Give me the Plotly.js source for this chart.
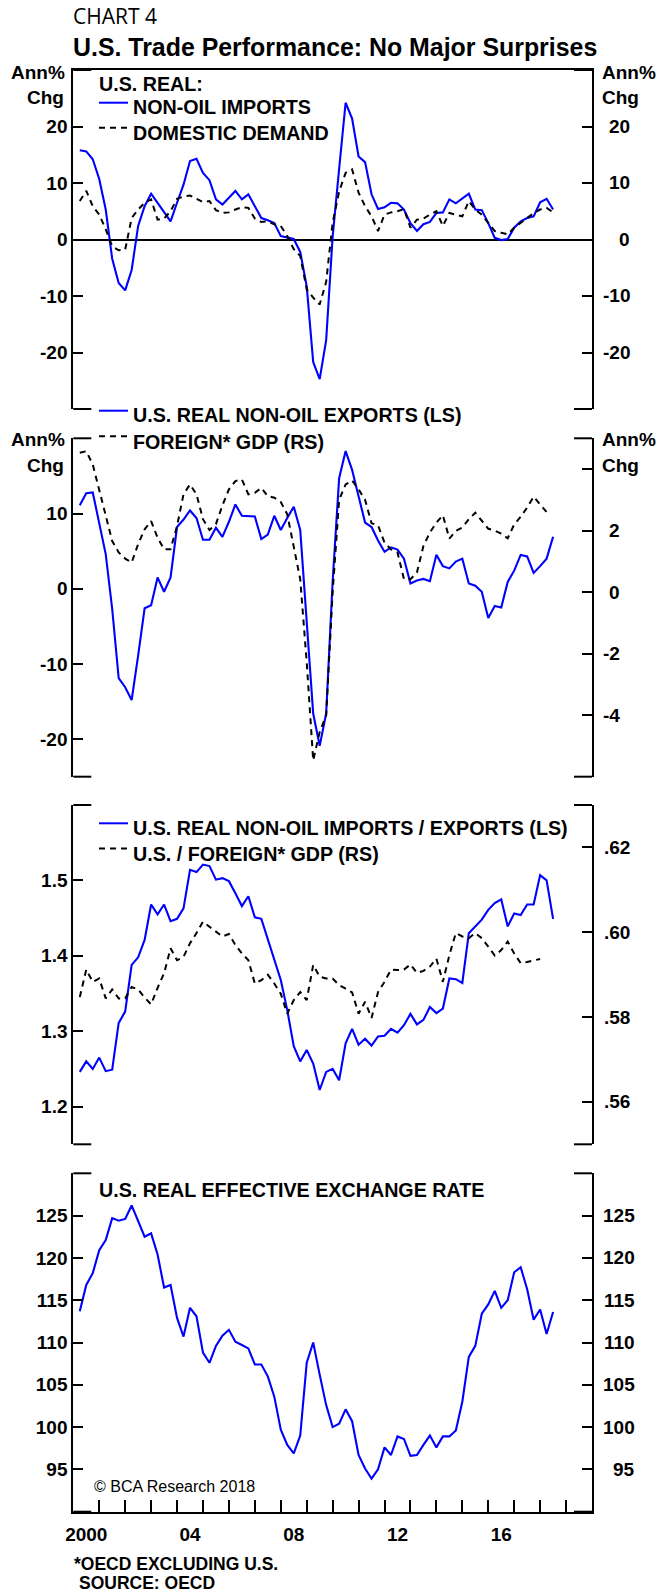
<!DOCTYPE html>
<html>
<head>
<meta charset="utf-8">
<script src="https://cdn.plot.ly/plotly-3.0.1.min.js"></script>
<style>
html,body{margin:0;padding:0;background:#fff;}
#chart{width:657px;height:1594px;}
</style>
</head>
<body>
<div id="chart"></div>
<script>
// ---------------- DATA (quarterly, first point = 2000Q1) ----------------
const FIRST_QUARTER = 2000.25;

const importsGrowth = [15.8, 15.6, 14.2, 10.7, 5.3, -3.4, -7.7, -9.0, -5.4, 2.4,
  5.9, 8.1, 6.5, 4.8, 3.2, 6.5, 9.7, 13.9, 14.3, 11.8,
  10.5, 7.1, 6.2, 7.4, 8.6, 7.1, 8.0, 5.9, 3.8, 3.4,
  2.9, 0.6, 0.4, 0.1, -2.2, -8.3, -21.7, -24.7, -17.8, 0.5,
  12.5, 24.2, 21.4, 14.7, 13.7, 8.0, 5.4, 5.7, 6.5, 6.4,
  5.3, 2.9, 1.5, 2.7, 3.1, 4.7, 4.8, 7.1, 6.4, 7.2,
  8.1, 5.3, 5.2, 2.9, 0.3, -0.1, 0.1, 2.1, 3.2, 3.8,
  4.1, 6.6, 7.2, 5.3];

const domesticDemand = [6.8, 8.6, 5.9, 4.4, 1.8, -1.2, -1.9, -1.8, 3.8, 5.3,
  6.5, 7.1, 3.5, 3.7, 5.0, 7.2, 7.6, 7.8, 7.2, 6.6,
  6.8, 5.2, 4.7, 4.8, 5.3, 5.7, 5.6, 3.7, 3.1, 3.2,
  2.7, 2.4, 0.6, -1.7, -2.9, -8.8, -10.3, -11.5, -7.5, 3.0,
  8.5, 11.8, 12.4, 8.3, 5.9, 4.1, 1.5, 4.4, 4.8, 5.0,
  5.4, 2.1, 3.5, 3.7, 4.4, 5.0, 2.4, 4.7, 4.4, 4.1,
  6.8, 5.3, 4.4, 2.9, 1.5, 1.2, 0.9, 2.1, 2.9, 3.8,
  4.7, 5.3, 5.6, 4.8];

const exportsGrowth = [11.1, 12.7, 12.8, 8.8, 4.6, -2.7, -11.9, -13.1, -14.8, -8.9,
  -2.6, -2.2, 1.5, -0.4, 1.5, 8.2, 9.2, 10.4, 9.4, 6.5,
  6.5, 8.1, 6.9, 8.9, 11.2, 9.7, 9.7, 9.6, 6.6, 7.2,
  9.7, 7.8, 9.4, 10.9, 7.8, -4.5, -16.6, -20.9, -16.6, 1.0,
  14.7, 18.3, 15.8, 12.3, 8.8, 8.2, 6.4, 4.9, 5.5, 5.2,
  4.0, 0.7, 1.1, 1.3, 1.0, 4.5, 3.0, 2.7, 3.6, 4.0,
  0.7, 0.4, -0.4, -3.9, -2.3, -2.5, 0.9, 2.4, 4.5, 4.3,
  2.1, 3.0, 4.0, 6.9];

const foreignGdp = [4.53, 4.58, 4.15, 3.34, 2.48, 1.66, 1.29, 1.09, 0.96, 1.56,
  2.04, 2.31, 1.77, 1.39, 1.39, 2.15, 3.18, 3.50, 3.18, 2.37,
  2.02, 2.21, 2.82, 3.34, 3.61, 3.66, 3.18, 3.23, 3.39, 3.12,
  3.07, 2.93, 2.53, 1.50, 0.42, -2.28, -5.47, -4.55, -4.0, 0.0,
  3.0, 3.5, 3.63, 3.34, 3.0, 2.24, 2.17, 1.61, 1.39, 1.29,
  0.42, 0.42, 0.64, 1.50, 1.94, 2.26, 2.50, 1.74, 1.99, 2.10,
  2.37, 2.58, 2.31, 2.06, 2.0, 1.9, 1.75, 2.2, 2.45, 2.75,
  3.1, 2.85, 2.6];

const importsToExports = [1.246, 1.260, 1.250, 1.265, 1.247, 1.249, 1.311, 1.326, 1.388, 1.398,
  1.421, 1.468, 1.455, 1.468, 1.446, 1.449, 1.463, 1.514, 1.511, 1.521,
  1.519, 1.501, 1.503, 1.499, 1.483, 1.466, 1.479, 1.451, 1.449, 1.421,
  1.395, 1.368, 1.328, 1.280, 1.260, 1.275, 1.257, 1.222, 1.246, 1.250,
  1.235, 1.284, 1.303, 1.282, 1.290, 1.281, 1.293, 1.294, 1.303, 1.298,
  1.308, 1.323, 1.309, 1.315, 1.332, 1.324, 1.330, 1.370, 1.369, 1.364,
  1.430, 1.439, 1.448, 1.461, 1.470, 1.475, 1.439, 1.456, 1.454, 1.468,
  1.468, 1.507, 1.500, 1.449];

const usToForeignGdp = [0.5847, 0.5912, 0.5883, 0.5891, 0.5844, 0.5865, 0.5844, 0.5844, 0.5871, 0.5865,
  0.5846, 0.5830, 0.5869, 0.5903, 0.5962, 0.5934, 0.5942, 0.5974, 0.5998, 0.6025,
  0.6013, 0.6002, 0.5990, 0.5996, 0.5970, 0.5950, 0.5934, 0.5879, 0.5887, 0.5900,
  0.5879, 0.5855, 0.5808, 0.5840, 0.5859, 0.5840, 0.5923, 0.5895, 0.5891, 0.5891,
  0.5875, 0.5867, 0.5858, 0.5808, 0.5836, 0.5798, 0.5859, 0.5883, 0.5912, 0.5911,
  0.5912, 0.5924, 0.5904, 0.5909, 0.5919, 0.5938, 0.5883, 0.5946, 0.5998, 0.5990,
  0.5986, 0.5998, 0.5986, 0.5966, 0.5945, 0.5958, 0.5978, 0.5950, 0.5927, 0.5930,
  0.5934, 0.5937];

const realExchangeRate = [113.7, 116.8, 118.2, 120.9, 122.1, 124.7, 124.4, 124.6, 126.2, 124.4,
  122.5, 122.9, 120.4, 116.5, 116.8, 112.9, 110.7, 114.1, 113.1, 108.8,
  107.6, 109.6, 110.8, 111.5, 110.1, 109.7, 109.3, 107.4, 107.4, 106.0,
  103.6, 99.7, 97.9, 96.9, 99.0, 107.6, 110.0, 106.2, 102.6, 100.0,
  100.4, 102.1, 100.7, 96.7, 95.1, 93.9, 95.0, 97.6, 96.7, 98.9,
  98.6, 96.6, 96.7, 97.9, 99.0, 97.6, 98.9, 98.9, 99.6, 103.0,
  108.3, 109.6, 113.4, 114.5, 116.1, 114.1, 115.0, 118.3, 118.9, 116.3,
  112.7, 113.9, 111.0, 113.6];

// ---------------- TICKS / LABELS ----------------
const yearTicks = [2000,2001,2002,2003,2004,2005,2006,2007,2008,2009,2010,2011,2012,2013,2014,2015,2016,2017,2018,2019,2020];
const labelYears = [2000, 2004, 2008, 2012, 2016];
const labelTexts = ['2000', '04', '08', '12', '16'];

const p1Ticks = [-20, -10, 0, 10, 20];
const p2LeftTicks = [-20, -10, 0, 10];
const p2RightTicks = [-4, -2, 0, 2, 4];
const p2RightLabels = ['-4', '-2', '0', '2', ''];
const p3LeftTicks = [1.2, 1.3, 1.4, 1.5];
const p3RightTicks = [0.56, 0.58, 0.60, 0.62];
const p3RightLabels = ['.56', '.58', '.60', '.62'];
const p4Ticks = [95, 100, 105, 110, 115, 120, 125];

// ---------------- GEOMETRY HELPERS ----------------
const W = 657, H = 1594;
const fx = p => p / W;
const fy = p => 1 - p / H;
const PL = 73.3, PR = 592;
const PANELS = [[70, 409], [438.3, 776.7], [805, 1144.3], [1173.3, 1511.7]];
const dom = i => [fy(PANELS[i][1]), fy(PANELS[i][0])];

const FAM = '"Liberation Sans", Arial, Helvetica, sans-serif';
const BOLD = {family: FAM, size: 19, color: '#000', weight: 700};
const LEG = {family: FAM, size: 19.7, color: '#000', weight: 700};
const BLUE = '#0000ff';
const DASH = '6px,5px';

function quarterAxis(n) {
  const xs = [];
  for (let i = 0; i < n; i++) xs.push(FIRST_QUARTER + 0.25 * i);
  return xs;
}

function line(y, xa, ya, color, dash, width) {
  return {type: 'scatter', mode: 'lines', x: quarterAxis(y.length), y: y,
    xaxis: xa, yaxis: ya, hoverinfo: 'skip',
    line: {color: color, width: width, dash: dash}};
}

const traces = [
  line(importsGrowth, 'x', 'y', BLUE, 'solid', 2.1),
  line(domesticDemand, 'x', 'y', '#000', DASH, 2),
  line(foreignGdp, 'x2', 'y3', '#000', DASH, 2),
  line(exportsGrowth, 'x2', 'y2', BLUE, 'solid', 2.1),
  line(usToForeignGdp, 'x3', 'y5', '#000', DASH, 2),
  line(importsToExports, 'x3', 'y4', BLUE, 'solid', 2.1),
  line(realExchangeRate, 'x4', 'y6', BLUE, 'solid', 2.1)
];

const yBase = {showgrid: false, zeroline: false, showline: true, linecolor: '#000', linewidth: 2,
  ticks: 'inside', ticklen: 10, tickwidth: 2, tickcolor: '#000', tickfont: BOLD, fixedrange: true};
const xHidden = {domain: [fx(PL), fx(PR)], range: [2000, 2020], visible: false, fixedrange: true};

const layout = {
  width: W, height: H,
  margin: {l: 0, r: 0, t: 0, b: 0},
  paper_bgcolor: '#fff', plot_bgcolor: 'rgba(0,0,0,0)',
  showlegend: false,
  xaxis: {domain: [fx(PL), fx(PR)], range: [2000, 2020], anchor: 'y', side: 'top',
    showline: true, linecolor: '#000', linewidth: 2, ticks: '', showticklabels: false,
    showgrid: false, zeroline: false, fixedrange: true},
  xaxis2: Object.assign({anchor: 'y2'}, xHidden),
  xaxis3: Object.assign({anchor: 'y4'}, xHidden),
  xaxis4: {domain: [fx(PL), fx(PR)], range: [2000, 2020], anchor: 'y6',
    showline: true, linecolor: '#000', linewidth: 2, showgrid: false, zeroline: false,
    ticks: 'inside', ticklen: 12, tickwidth: 2, tickcolor: '#000',
    tickvals: yearTicks,
    ticktext: yearTicks.map(y => { const k = labelYears.indexOf(y); return k >= 0 ? labelTexts[k] : ''; }),
    ticklabelshift: 13, ticklabelstandoff: 4,
    tickfont: BOLD, fixedrange: true},
  yaxis: Object.assign({}, yBase, {domain: dom(0), anchor: 'x', range: [-30, 30],
    tickvals: p1Ticks, ticktext: p1Ticks.map(String), mirror: 'ticks',
    zeroline: true, zerolinecolor: '#000', zerolinewidth: 2}),
  yaxis2: Object.assign({}, yBase, {domain: dom(1), anchor: 'x2', range: [-25, 20],
    tickvals: p2LeftTicks, ticktext: p2LeftTicks.map(String)}),
  yaxis3: Object.assign({}, yBase, {overlaying: 'y2', anchor: 'x2', side: 'right', range: [-6, 5],
    tickvals: p2RightTicks, showticklabels: false}),
  yaxis4: Object.assign({}, yBase, {domain: dom(2), anchor: 'x3', range: [1.15, 1.6],
    tickvals: p3LeftTicks, ticktext: p3LeftTicks.map(v => v.toFixed(1))}),
  yaxis5: Object.assign({}, yBase, {overlaying: 'y4', anchor: 'x3', side: 'right', range: [0.55, 0.63],
    tickvals: p3RightTicks, showticklabels: false}),
  yaxis6: Object.assign({}, yBase, {domain: dom(3), anchor: 'x4', range: [90, 130],
    tickvals: p4Ticks, ticktext: p4Ticks.map(String), mirror: 'ticks'}),
  shapes: [],
  annotations: []
};

// axis end caps
PANELS.forEach(([t, b]) => {
  [t, b].forEach(yy => {
    layout.shapes.push({type: 'line', xref: 'paper', yref: 'paper', x0: fx(PL), x1: fx(PL + 18), y0: fy(yy), y1: fy(yy), line: {color: '#000', width: 2}});
    layout.shapes.push({type: 'line', xref: 'paper', yref: 'paper', x0: fx(PR - 18), x1: fx(PR), y0: fy(yy), y1: fy(yy), line: {color: '#000', width: 2}});
  });
});

function txt(text, x, y, anchor, font) {
  layout.annotations.push({text: text, xref: 'paper', yref: 'paper', x: fx(x), y: fy(y),
    xanchor: anchor, yanchor: 'middle', showarrow: false, font: font || BOLD,
    borderpad: 0, borderwidth: 0});
}
function rightLabels(vals, texts, yref, xRight) {
  vals.forEach((v, k) => {
    if (!texts[k]) return;
    layout.annotations.push({text: texts[k], xref: 'paper', yref: yref, x: fx(xRight), y: v,
      xanchor: 'right', yanchor: 'middle', showarrow: false, font: BOLD, borderpad: 0, borderwidth: 0});
  });
}
function legendLine(y, color, dash) {
  layout.shapes.push({type: 'line', xref: 'paper', yref: 'paper', x0: fx(99), x1: fx(128), y0: fy(y), y1: fy(y),
    line: {color: color, width: 2, dash: dash}});
}

// right-hand tick labels (right aligned like the original)
rightLabels(p1Ticks, p1Ticks.map(String), 'y', 630);
rightLabels(p2RightTicks, p2RightLabels, 'y3', 619.5);
rightLabels(p3RightTicks, p3RightLabels, 'y5', 629.5);
rightLabels(p4Ticks, p4Ticks.map(String), 'y6', 634.5);

// titles
txt('CHART 4', 73.3, 16, 'left', {family: '"Open Sans", sans-serif', size: 21, color: '#000'});
txt('U.S. Trade Performance: No Major Surprises', 73.3, 46.5, 'left', {family: FAM, size: 24.9, color: '#000', weight: 700});

// unit labels
[[72.5, 97.7], [439.3, 465]].forEach(([a, c]) => {
  txt('Ann%', 65, a, 'right'); txt('Chg', 64, c, 'right');
  txt('Ann%', 601.7, a, 'left'); txt('Chg', 601.7, c, 'left');
});

// legends
txt('U.S. REAL:', 99.3, 83.5, 'left', LEG);
legendLine(102.7, BLUE, 'solid'); txt('NON-OIL IMPORTS', 133.3, 107, 'left', LEG);
legendLine(127.7, '#000', DASH); txt('DOMESTIC DEMAND', 133.3, 132.5, 'left', LEG);
legendLine(410.7, BLUE, 'solid'); txt('U.S. REAL NON-OIL EXPORTS (LS)', 133.3, 415, 'left', LEG);
legendLine(436.3, '#000', DASH); txt('FOREIGN* GDP (RS)', 133.3, 441.7, 'left', LEG);
legendLine(823.3, BLUE, 'solid'); txt('U.S. REAL NON-OIL IMPORTS / EXPORTS (LS)', 133.3, 828.3, 'left', LEG);
legendLine(848.5, '#000', DASH); txt('U.S. / FOREIGN* GDP (RS)', 133.3, 854, 'left', LEG);
txt('U.S. REAL EFFECTIVE EXCHANGE RATE', 99.3, 1190, 'left', LEG);

// notes
txt('© BCA Research 2018', 94, 1486.7, 'left', {family: FAM, size: 16, color: '#000'});
txt('*OECD EXCLUDING U.S.', 74, 1564, 'left', {family: FAM, size: 17.5, color: '#000', weight: 700});
txt('SOURCE: OECD', 79, 1583, 'left', {family: FAM, size: 17.5, color: '#000', weight: 700});

Plotly.newPlot('chart', traces, layout, {displayModeBar: false, staticPlot: true});
</script>
</body>
</html>
